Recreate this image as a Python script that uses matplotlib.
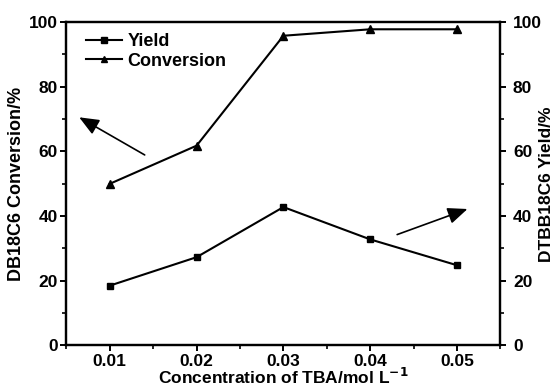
import matplotlib
matplotlib.use("Agg")
import matplotlib.pyplot as plt
from matplotlib.ticker import MultipleLocator

plt.rcParams['font.family'] = ['Liberation Sans', 'DejaVu Sans']
plt.rcParams['font.weight'] = 'bold'
plt.rcParams['axes.linewidth'] = 1.6

# TBA concentration (mol/L) vs. yield and conversion (%)
conc = [0.01, 0.02, 0.03, 0.04, 0.05]
yield_pct = [18.5, 27.3, 42.8, 32.8, 24.8]
conversion_pct = [50, 61.8, 95.8, 97.8, 97.8]

fig, ax = plt.subplots(figsize=(5.53, 3.89), dpi=100)
fig.subplots_adjust(left=0.12, right=0.905, top=0.943, bottom=0.112)

ax.plot(conc, yield_pct, color='black', lw=1.5, marker='s', ms=5, label='Yield')
ax.plot(conc, conversion_pct, color='black', lw=1.5, marker='^', ms=6, label='Conversion')

ax.set_xlim(0.005, 0.055)
ax.set_ylim(0, 100)
ax.set_xticks(conc)
ax.set_xticklabels(['0.01', '0.02', '0.03', '0.04', '0.05'])
ax.xaxis.set_minor_locator(MultipleLocator(0.005))
ax.yaxis.set_major_locator(MultipleLocator(20))
ax.yaxis.set_minor_locator(MultipleLocator(10))
ax.tick_params(axis='both', which='major', length=4, width=1.4, labelsize=12.5, direction='out', pad=2)
ax.tick_params(axis='both', which='minor', length=3, width=1.2, direction='out')
ax.tick_params(top=False, right=False, which='both')

ax.set_xlabel('Concentration of TBA/mol L$^{\\mathbf{-1}}$', fontsize=12.5, fontweight='bold', labelpad=-1)
ax.set_ylabel('DB18C6 Conversion/%', fontsize=13, fontweight='bold', labelpad=3)

# second axis shares the same 0-100 scale
ax2 = ax.twinx()
ax2.set_ylim(0, 100)
ax2.yaxis.set_major_locator(MultipleLocator(20))
ax2.yaxis.set_minor_locator(MultipleLocator(10))
ax2.tick_params(axis='y', which='major', length=4, width=1.4, labelsize=12.5, direction='out', pad=5)
ax2.tick_params(axis='y', which='minor', length=3, width=1.2, direction='out')
ax2.set_ylabel('DTBB18C6 Yield/%', fontsize=12.5, fontweight='bold')
ax2.yaxis.set_label_coords(1.088, 0.5)

leg = ax.legend(loc='upper left', frameon=False, fontsize=13, handlelength=2.0,
                handletextpad=0.3, labelspacing=0.15, borderaxespad=0.2,
                bbox_to_anchor=(0.02, 1.0), markerscale=0.8)

# arrows pointing to the axis each curve belongs to
head = dict(arrowstyle='-|>,head_length=1.2,head_width=0.5', color='black', lw=1.2)
ax.annotate('', xy=(0.0062, 71), xytext=(0.0143, 58.5), arrowprops=head)
ax.annotate('', xy=(0.0515, 42.5), xytext=(0.0428, 34), arrowprops=head)

fig.savefig('out.png', dpi=100)
